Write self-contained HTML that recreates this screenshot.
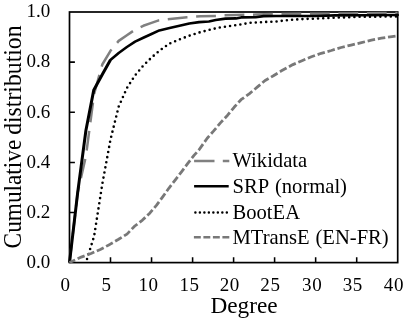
<!DOCTYPE html>
<html><head><meta charset="utf-8">
<style>
html,body{margin:0;padding:0;background:#fff;}
body{width:407px;height:322px;overflow:hidden;}
svg{display:block;will-change:transform;}
text{font-family:"Liberation Serif",serif;fill:#000;}
</style></head><body>
<svg width="407" height="322" viewBox="0 0 407 322">
<rect width="407" height="322" fill="#fff"/>
<rect x="69.5" y="12.0" width="328.2" height="250.6" fill="none" stroke="#000" stroke-width="1.7"/>
<!-- curves -->
<g fill="none" stroke-linejoin="round">
<polyline id="wd" stroke="#808080" stroke-width="2.5" stroke-dasharray="19.8 8.67" stroke-dashoffset="0.3" points="69.5,262.6 77.7,192.5 85.9,156.2 94.1,94 102.3,64.5 110.5,50.8 118.7,40.9 126.9,35.2 135.1,29.7 143.3,25.8 151.5,22.9 158.7,20.4 167.6,19.2 187,17.2 200.7,16.2 216,16.0 224.5,15.3 236,15.0 256,14.6 276,14.0 316,13.8 350,13.4 397.7,13.0"/>
<polyline id="srp" stroke="#000" stroke-width="3" points="69.5,262.6 77.7,192.3 85.9,130.5 93.8,89.9 102.3,74.6 110.4,60"/>
<polyline id="srp2" stroke="#000" stroke-width="2.6" stroke-linecap="round" points="110.4,60 118.7,53 126.9,47 135.1,41.6 143.3,37.8 151.5,34 159.3,30.4 169.6,28 179.5,25.8 189.3,23.5 199.1,22.1 208.9,21.5 215.7,20 225.5,18.6 236,18.4 241,17.4 255.7,17.3 263.5,16.1 276,16.0 316,16.0 335,15.4 365,15.25 397.7,15.0"/>
<polyline id="be" stroke="#000" stroke-width="2.6" stroke-linecap="round" stroke-dasharray="0 5.2" stroke-dashoffset="1.4" points="85.9,262.6 94.1,236.3 102.3,184 110.5,139.5 118.7,106.5 126.9,88 135.1,75.3 143.3,65.6 151.5,57.6 159.7,50.5 169.6,43.5 179.5,39.4 189.3,35.7 199.1,32.5 208.9,30 218.8,27.6 230,26 236,25.2 239.9,24.6 249.8,22.8 260.6,22.2 270.4,21.7 276,21.6 285.8,20.3 295.7,19.5 305.5,18.9 315.3,18.7 338,17.6 360,16.8 397.7,16.4"/>
<polyline id="mt" stroke="#787878" stroke-width="2.8" stroke-dasharray="7.6 2.774" stroke-dashoffset="1.4" points="69.5,262.6 81.2,257.1 91,253.5 100.3,249.5 109.8,244.4 118.6,239.3 127,234.1 134.8,226 142.5,220.1 150,212.9 156.6,205.1 162.7,196.8 168.8,188.3 176.3,178.6 181.7,171.6 187.6,163.7 194,155.4 198.9,150 207.2,138.2 213.7,130.9 220.2,123.1 227.6,115.2 234.1,107.3 241,99.7 249.2,93.8 257.2,87.2 265.1,80.5 273.4,75.8 281,71.1 292.9,64.6 302,60.7 311.4,56.8 321.2,53.3 331.3,50.5 341.1,47.5 351.1,45.1 361.4,42.6 371.4,40.2 381.4,38.2 392,36.6 397.7,35.8"/>
</g>
<!-- axes -->
<g stroke="#000" stroke-width="1.55" fill="none">
<path d="M69.5,62.1h5.4M69.5,112.2h5.4M69.5,162.4h5.4M69.5,212.5h5.4"/>
<path d="M110.5,262.6v-5.4M151.55,262.6v-5.4M192.6,262.6v-5.4M233.6,262.6v-5.4M274.6,262.6v-5.4M315.65,262.6v-5.4M356.7,262.6v-5.4"/>
</g>
<!-- y tick labels -->
<g font-size="19" text-anchor="end">
<text x="50.2" y="17.4">1.0</text>
<text x="50.2" y="67.4">0.8</text>
<text x="50.2" y="117.5">0.6</text>
<text x="50.2" y="167.5">0.4</text>
<text x="50.2" y="217.5">0.2</text>
<text x="50.2" y="267.6">0.0</text>
</g>
<!-- x tick labels -->
<g font-size="19" text-anchor="middle">
<text x="65.2" y="290.9">0</text>
<text x="106.3" y="290.9">5</text>
<text x="148.50" y="290.9" letter-spacing="0.6">10</text>
<text x="189.50" y="290.9" letter-spacing="0.6">15</text>
<text x="229.85" y="290.9" letter-spacing="0.6">20</text>
<text x="270.40" y="290.9" letter-spacing="0.6">25</text>
<text x="312.20" y="290.9" letter-spacing="0.6">30</text>
<text x="352.85" y="290.9" letter-spacing="0.6">35</text>
<text x="393.90" y="290.9" letter-spacing="0.6">40</text>
</g>
<text x="244.1" y="312.8" font-size="23.3" text-anchor="middle">Degree</text>
<text transform="translate(21,248.4) rotate(-90) scale(0.951,1)" font-size="24.5">Cumulative</text>
<text transform="translate(21,134.85) rotate(-90) scale(0.969,1)" font-size="24.5">distribution</text>
<!-- legend -->
<g fill="none">
<path d="M194.1,161H229.3" stroke="#808080" stroke-width="2.3" stroke-dasharray="20.4 8.3"/>
<path d="M194.1,186.3H228.7" stroke="#000" stroke-width="2.5"/>
<path d="M195.4,212.4H227.2" stroke="#000" stroke-width="2.5" stroke-linecap="round" stroke-dasharray="0 4.49"/>
<path d="M193.9,237.3H229.3" stroke="#787878" stroke-width="2.6" stroke-dasharray="6.9 2.6"/>
</g>
<g font-size="20.6">
<text x="232.5" y="167.2">Wikidata</text>
<text x="232.5" y="192.9" word-spacing="1.4">SRP (normal)</text>
<text x="232.5" y="218.7">BootEA</text>
<text x="232.5" y="243.7" word-spacing="0.8">MTransE (EN-FR)</text>
</g>
</svg>
</body></html>
